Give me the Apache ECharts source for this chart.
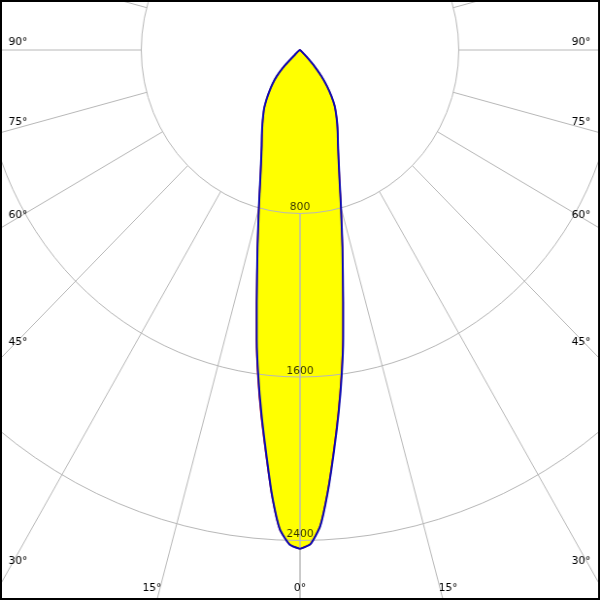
<!DOCTYPE html>
<html>
<head>
<meta charset="utf-8">
<script src="https://cdn.jsdelivr.net/npm/echarts@6/dist/echarts.min.js"></script>
<style>
html,body{margin:0;padding:0;background:#fff;}
#wrap{width:600px;height:600px;overflow:hidden;position:relative;}
#chart{width:618px;height:600px;transform:scaleX(0.970874);transform-origin:0 0;}
</style>
</head>
<body>
<div id="wrap"><div id="chart"></div></div>
<script>
// gamma angles (degrees from nadir)
const gamma = [0, 1.25, 2.5, 3.75, 5, 6.25, 7.5, 8.75, 10, 12.5, 15, 17.5, 20, 22.5, 25, 27.5, 30, 32.5, 35, 37.5, 40, 42.5, 45, 47.5, 50, 60, 70, 80, 90, 100, 110, 120, 130, 140, 150, 160, 170, 180];
// C0 / C180 plane (blue), cd
const c180 = [2441, 2420, 2345, 2176, 1972, 1789, 1611, 1434, 1257, 990, 802, 667, 573, 505, 455, 411, 372, 336, 294, 253, 214, 172, 118, 40, 0, 0, 0, 0, 0, 0, 0, 0, 0, 0, 0, 0, 0, 0];
const c0   = [2441, 2418, 2332, 2160, 1968, 1786, 1608, 1430, 1252, 988, 798, 662, 568, 500, 450, 406, 364, 325, 276, 223, 168, 108, 48, 12, 0, 0, 0, 0, 0, 0, 0, 0, 0, 0, 0, 0, 0, 0];
// C90 / C270 plane (red), cd
const c270 = [2441, 2420, 2347, 2180, 1980, 1800, 1622, 1442, 1262, 992, 803, 667, 573, 505, 455, 411, 372, 336, 294, 253, 214, 172, 118, 40, 0, 0, 0, 0, 0, 0, 0, 0, 0, 0, 0, 0, 0, 0];
const c90  = [2441, 2418, 2330, 2155, 1960, 1778, 1600, 1424, 1250, 988, 798, 662, 568, 500, 450, 406, 364, 325, 276, 223, 168, 108, 48, 12, 0, 0, 0, 0, 0, 0, 0, 0, 0, 0, 0, 0, 0, 0];
// grid
const radiusTicks = [800, 1600, 2400];
const radialLineAngles = [0, 15, 30, 45, 60, 75, 90, 105, 120, 135, 150, 165, 180];
const angleLabels = [0, 15, 30, 45, 60, 75, 90];

const SX = 600 / 618;          // horizontal squeeze of the drawing
const CX = 309, CY = 50, RADIUS = 654, RMAX = 3200;

function loop(left, right) {
  const pts = [];
  for (let i = 0; i < gamma.length; i++) pts.push([left[i], gamma[i]]);
  for (let i = gamma.length - 1; i >= 0; i--) pts.push([right[i], 360 - gamma[i]]);
  return pts;
}

const gridColor = '#b8b8b8';
const SMOOTH = 0.18;
const series = [];

// fill (below the grid)
series.push({
  type: 'line', coordinateSystem: 'polar', data: loop(c180, c0),
  symbol: 'none', silent: true, z: 1, smooth: SMOOTH,
  lineStyle: { width: 0, opacity: 0 },
  areaStyle: { color: '#ffff00', opacity: 1 }
});

// radial grid lines, starting at the first ring
radialLineAngles.forEach(a => {
  [a, 360 - a].forEach(ang => {
    series.push({
      type: 'line', coordinateSystem: 'polar', silent: true, z: 3,
      symbol: 'none', data: [[radiusTicks[0], ang], [RMAX, ang]],
      lineStyle: { color: gridColor, width: 1 }
    });
  });
});

// red plane outline
series.push({
  type: 'line', coordinateSystem: 'polar', data: loop(c270, c90),
  symbol: 'none', silent: true, z: 4, smooth: SMOOTH,
  lineStyle: { color: '#e00000', width: 1.5 }
});
// blue plane outline
series.push({
  type: 'line', coordinateSystem: 'polar', data: loop(c180, c0),
  symbol: 'none', silent: true, z: 5, smooth: SMOOTH,
  lineStyle: { color: '#0a0ab4', width: 2 }
});
// ring value labels
series.push({
  type: 'scatter', coordinateSystem: 'polar', silent: true, z: 6,
  symbolSize: 1, itemStyle: { color: 'rgba(0,0,0,0)' },
  data: radiusTicks.map(r => [r, 0]),
  label: {
    show: true, position: 'inside', offset: [0, -6],
    formatter: p => String(p.value[0]),
    color: '#000', fontSize: 11, fontFamily: 'DejaVu Sans'
  }
});

// angle labels at the frame edges (screen positions, then unsqueezed)
const graphics = [];
angleLabels.forEach(t => {
  const sides = t === 0 ? [0] : [-1, 1];
  sides.forEach(s => {
    let x, y;
    const rad = t * Math.PI / 180;
    const ySide = t === 90 ? CY - 8 : CY + 300 / Math.tan(rad) - 8;
    if (t !== 0 && ySide <= 575) {
      x = s < 0 ? 18 : 581;
      y = ySide;
    } else {
      x = 300 + s * 553 * Math.tan(rad);
      y = 588;
    }
    graphics.push({
      type: 'text', x: x / SX, y: y, z: 10, silent: true,
      style: { text: t + '°', fill: '#000', font: '11px "DejaVu Sans"', textAlign: 'center', textVerticalAlign: 'middle' }
    });
  });
});
graphics.push({
  type: 'rect', z: 20, silent: true,
  shape: { x: 1, y: 1, width: 616, height: 598 },
  style: { fill: null, stroke: '#000', lineWidth: 2 }
});

const chart = echarts.init(document.getElementById('chart'), null, { renderer: 'canvas' });
chart.setOption({
  backgroundColor: '#ffffff',
  animation: false,
  polar: { center: [CX, CY], radius: RADIUS },
  angleAxis: {
    type: 'value', min: 0, max: 360, startAngle: 270, clockwise: true,
    axisLine: { show: false }, axisTick: { show: false }, axisLabel: { show: false },
    splitLine: { show: false }
  },
  radiusAxis: {
    type: 'value', min: 0, max: RMAX, interval: 800, z: 2,
    axisLine: { show: false }, axisTick: { show: false }, axisLabel: { show: false },
    splitLine: { show: true, lineStyle: { color: gridColor, width: 1 } }
  },
  series: series,
  graphic: graphics
});
</script>
</body>
</html>
